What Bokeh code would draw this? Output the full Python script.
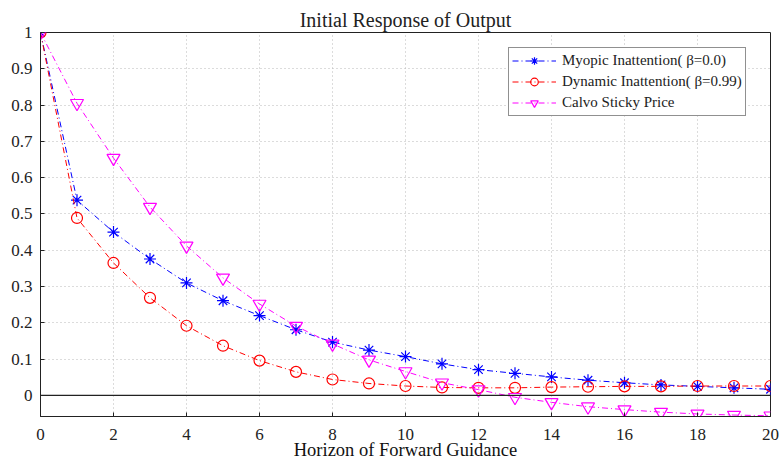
from bokeh.plotting import figure
from bokeh.models import Range1d, FixedTicker, Span, Legend, LegendItem
from bokeh.embed import file_html
from bokeh.resources import INLINE

horizon = list(range(21))
myopic = [1.0, 0.538, 0.45, 0.376, 0.31, 0.261, 0.22, 0.181, 0.147, 0.125, 0.107,
          0.087, 0.071, 0.061, 0.051, 0.042, 0.035, 0.029, 0.025, 0.021, 0.017]
dynamic = [1.0, 0.489, 0.365, 0.269, 0.192, 0.137, 0.096, 0.065, 0.044, 0.033, 0.026,
           0.022, 0.021, 0.021, 0.023, 0.024, 0.025, 0.025, 0.026, 0.026, 0.026]
calvo = [1.0, 0.805, 0.654, 0.519, 0.412, 0.324, 0.252, 0.191, 0.142, 0.098, 0.066,
         0.035, 0.016, -0.005, -0.019, -0.031, -0.039, -0.046, -0.051, -0.054, -0.056]

xticks = [0, 2, 4, 6, 8, 10, 12, 14, 16, 18, 20]
yticks = [0, 0.1, 0.2, 0.3, 0.4, 0.5, 0.6, 0.7, 0.8, 0.9, 1]
ytick_labels = ["0", "0.1", "0.2", "0.3", "0.4", "0.5", "0.6", "0.7", "0.8", "0.9", "1"]

series_names = ["Myopic Inattention( \u03b2=0.0)", "Dynamic Inattention( \u03b2=0.99)", "Calvo Sticky Price"]

SERIF = "Liberation Serif"

p = figure(width=780, height=463, output_backend="svg", toolbar_location=None,
           x_range=Range1d(0, 20), y_range=Range1d(-0.058, 1.0),
           min_border_left=40, min_border_right=10, min_border_top=32, min_border_bottom=47,
           title="Initial Response of Output")
p.title.align = "center"
p.title.text_font = SERIF
p.title.text_font_size = "20px"
p.title.text_font_style = "normal"
p.title.text_color = "#222222"
p.title.standoff = 4

p.outline_line_color = "#222222"
p.outline_line_width = 1
p.background_fill_color = "white"
p.border_fill_color = "white"

p.xaxis.ticker = FixedTicker(ticks=xticks)
p.yaxis.ticker = FixedTicker(ticks=yticks)
p.yaxis.major_label_overrides = {t: l for t, l in zip(yticks, ytick_labels)}
for ax in (p.xaxis, p.yaxis):
    ax.major_label_text_font = SERIF
    ax.major_label_text_font_size = "17px"
    ax.major_label_text_color = "#222222"
    ax.axis_label_text_font = SERIF
    ax.axis_label_text_font_size = "18.5px"
    ax.axis_label_text_font_style = "normal"
    ax.axis_label_text_color = "#111111"
    ax.major_tick_in = 4
    ax.major_tick_out = 0
    ax.minor_tick_line_color = None
    ax.axis_line_color = "#222222"
    ax.major_tick_line_color = "#222222"
p.xaxis.major_label_standoff = 12
p.yaxis.major_label_standoff = 8
p.xaxis.axis_label = "Horizon of Forward Guidance"
p.xaxis.axis_label_standoff = -3

p.grid.grid_line_color = "#b8b8b8"
p.grid.grid_line_dash = "1 3"
p.grid.grid_line_width = 1

p.add_layout(Span(location=0, dimension="width", line_color="#222222", line_width=1.3))

colors = ["#0000ff", "#ff0000", "#ff00ff"]
markers = ["asterisk", "circle", "inverted_triangle"]
sizes = [12, 11, 13]
items = []
for ys, c, m, s, name in zip([myopic, dynamic, calvo], colors, markers, sizes, series_names):
    l = p.line(horizon, ys, line_color=c, line_width=1, line_dash="6 3 1 3")
    sc = p.scatter(horizon, ys, marker=m, size=s, line_color=c, fill_color=None, line_width=1.2)
    items.append(LegendItem(label=name, renderers=[l, sc]))

legend = Legend(items=items, location=(468, 300), margin=0, padding=3, spacing=2,
                glyph_height=19, glyph_width=44, label_height=19, label_standoff=6,
                label_text_font=SERIF, label_text_font_size="15px", label_text_color="#222222",
                border_line_color="#222222", border_line_width=1, background_fill_alpha=1.0)
p.add_layout(legend, "center")

open("out.html", "w").write(file_html(p, INLINE))
